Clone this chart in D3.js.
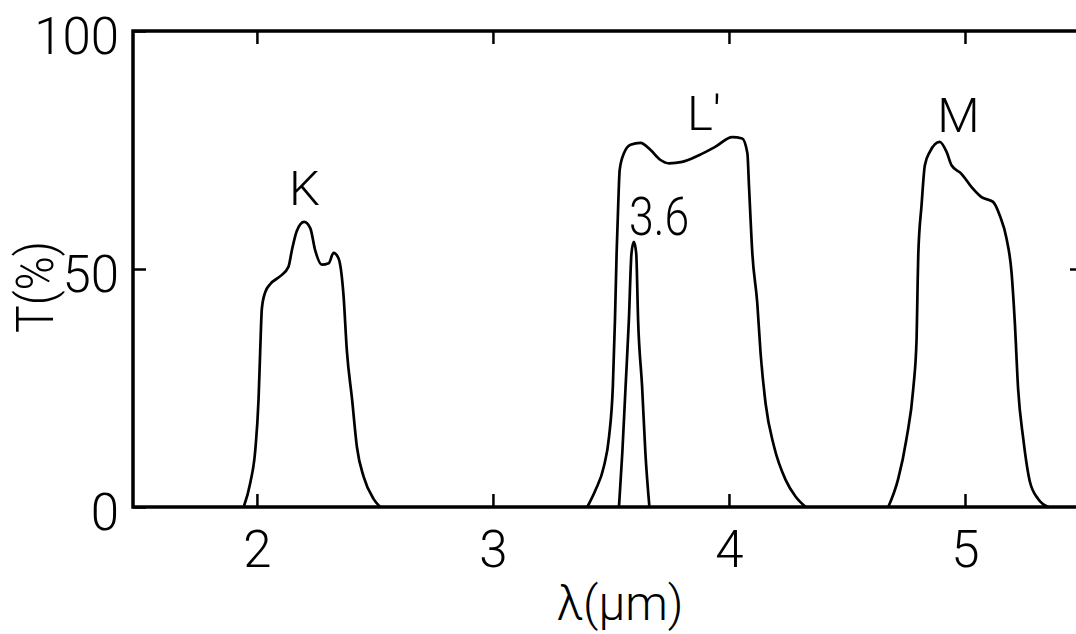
<!DOCTYPE html>
<html><head><meta charset="utf-8">
<script src="https://cdn.jsdelivr.net/npm/d3@7"></script>
<style>
body{margin:0;background:#fff;}
svg{display:block;}
text{font-family:Roboto,"Liberation Sans",sans-serif;font-weight:300;fill:#000;}
</style>
</head><body>
<svg id="c" width="1076" height="634"></svg>
<script>
// ---- data ----
const xTicks = [2, 3, 4, 5];
const yTicks = [0, 50, 100];
const yTickLabels = ["0", "50", "100"];

// K band
const kWave  = [1.944,1.972,1.993,2.007,2.014,2.021,2.035,2.056,2.099,2.134,2.148,2.169,2.200,2.226,2.247,2.275,2.304,2.325,2.346,2.367,2.381,2.403,2.424,2.452,2.494,2.522];
const kTrans = [0,5.1,11.9,22.7,32.9,41.7,45.1,46.8,48.5,50.5,53.9,58.0,59.9,58.6,53.9,50.9,51.2,53.4,52.2,44.4,32.9,22.7,12.5,6.4,1.7,0];

// L' band
const lWave  = [3.400,3.435,3.470,3.492,3.508,3.517,3.524,3.531,3.537,3.555,3.583,3.625,3.668,3.710,3.746,3.802,3.873,3.943,4.014,4.056,4.078,4.085,4.099,4.120,4.134,4.155,4.191,4.240,4.282,4.325];
const lTrans = [0,3.6,8.5,14.8,25.3,39.3,53.3,63.8,70.8,74.3,76.1,76.5,75.0,72.9,72.2,72.5,73.9,75.7,77.7,77.4,74.3,67.3,53.3,42.8,32.3,21.8,12.7,5.7,2.2,0];

// 3.6 narrow band
const nbWave  = [3.534,3.548,3.562,3.576,3.587,3.597,3.607,3.615,3.632,3.646,3.663];
const nbTrans = [0,11.3,25.3,39.3,53.3,55.7,53.3,39.3,25.3,11.3,0];

// M band
const mWave  = [4.675,4.717,4.752,4.781,4.795,4.799,4.802,4.816,4.830,4.851,4.893,4.922,4.943,4.985,5.028,5.070,5.119,5.147,5.176,5.197,5.211,5.225,5.247,5.275,5.310,5.353];
const mTrans = [0,5.9,14.3,24.9,35.4,45.9,52.9,63.4,71.8,74.6,76.7,74.6,71.8,70.0,67.2,65.1,64.1,61.3,56.4,49.4,38.9,24.9,14.3,5.3,1.7,0];

const bandLabels = ["K", "L′", "3.6", "M"];
const bandLabelWave  = [2.136, 3.822, 3.577, 4.882];
const bandLabelTrans = [63.4, 79.2, 57.1, 78.8];

// ---- layout ----
const svg = d3.select("#c");
const x = d3.scaleLinear().domain([1.475, 5.5]).range([133, 1083]);
const y = d3.scaleLinear().domain([0, 100]).range([507, 31]);
const [x0, x1] = x.range();
const [y0, y1] = y.range();

// frame
svg.append("rect")
  .attr("x", x0).attr("y", y1)
  .attr("width", x1 - x0).attr("height", y0 - y1)
  .attr("fill", "none").attr("stroke", "#000").attr("stroke-width", 3.5);

function styleAxis(g) {
  g.select(".domain").remove();
  g.selectAll(".tick line").attr("stroke", "#000").attr("stroke-width", 2.5);
}

// bottom axis with labels
const gb = svg.append("g").attr("transform", `translate(0,${y0})`)
  .call(d3.axisBottom(x).tickValues(xTicks).tickSize(-13).tickFormat(d3.format("d")))
  .call(styleAxis);
gb.selectAll("text").attr("y", 60).attr("dy", null)
  .attr("font-size", 51).attr("font-family", null).attr("fill", "#000");

// top axis
svg.append("g").attr("transform", `translate(0,${y1})`)
  .call(d3.axisTop(x).tickValues(xTicks).tickSize(-13).tickFormat(""))
  .call(styleAxis);

// left axis with labels
const gl = svg.append("g").attr("transform", `translate(${x0},0)`)
  .call(d3.axisLeft(y).tickValues(yTicks).tickSize(-13).tickFormat((d,i) => yTickLabels[i]))
  .call(styleAxis);
gl.selectAll("text").attr("x", -14).attr("y", 22).attr("dy", null)
  .attr("font-size", 51).attr("font-family", null).attr("fill", "#000");

// right axis
svg.append("g").attr("transform", `translate(${x1},0)`)
  .call(d3.axisRight(y).tickValues([50]).tickSize(-13).tickFormat(""))
  .call(styleAxis);

// curves
const line = d3.line().x(d => x(d[0])).y(d => y(d[1])).curve(d3.curveMonotoneX);
const bands = [
  [kWave, kTrans],
  [lWave, lTrans],
  [nbWave, nbTrans],
  [mWave, mTrans]
];
svg.append("g").selectAll("path").data(bands).join("path")
  .attr("d", b => line(d3.zip(b[0], b[1])))
  .attr("fill", "none").attr("stroke", "#000").attr("stroke-width", 2.7)
  .attr("stroke-linejoin", "round");

// band labels
svg.append("g").selectAll("text").data(bandLabels).join("text")
  .attr("x", (d,i) => x(bandLabelWave[i])).attr("y", (d,i) => y(bandLabelTrans[i]))
  .attr("font-size", (d) => d === "3.6" ? 54 : 49)
  .each(function(d) { if (d === "3.6") d3.select(this).attr("textLength", 60).attr("lengthAdjust", "spacingAndGlyphs"); })
  .text(d => d);

// axis titles
svg.append("text")
  .attr("x", 620).attr("y", 620)
  .attr("text-anchor", "middle").attr("font-size", 48)
  .text("λ(μm)");

svg.append("text")
  .attr("transform", `translate(53,287) rotate(-90)`)
  .attr("text-anchor", "middle").attr("font-size", 52)
  .attr("textLength", 92).attr("lengthAdjust", "spacingAndGlyphs")
  .text("T(%)");
</script>
</body></html>
